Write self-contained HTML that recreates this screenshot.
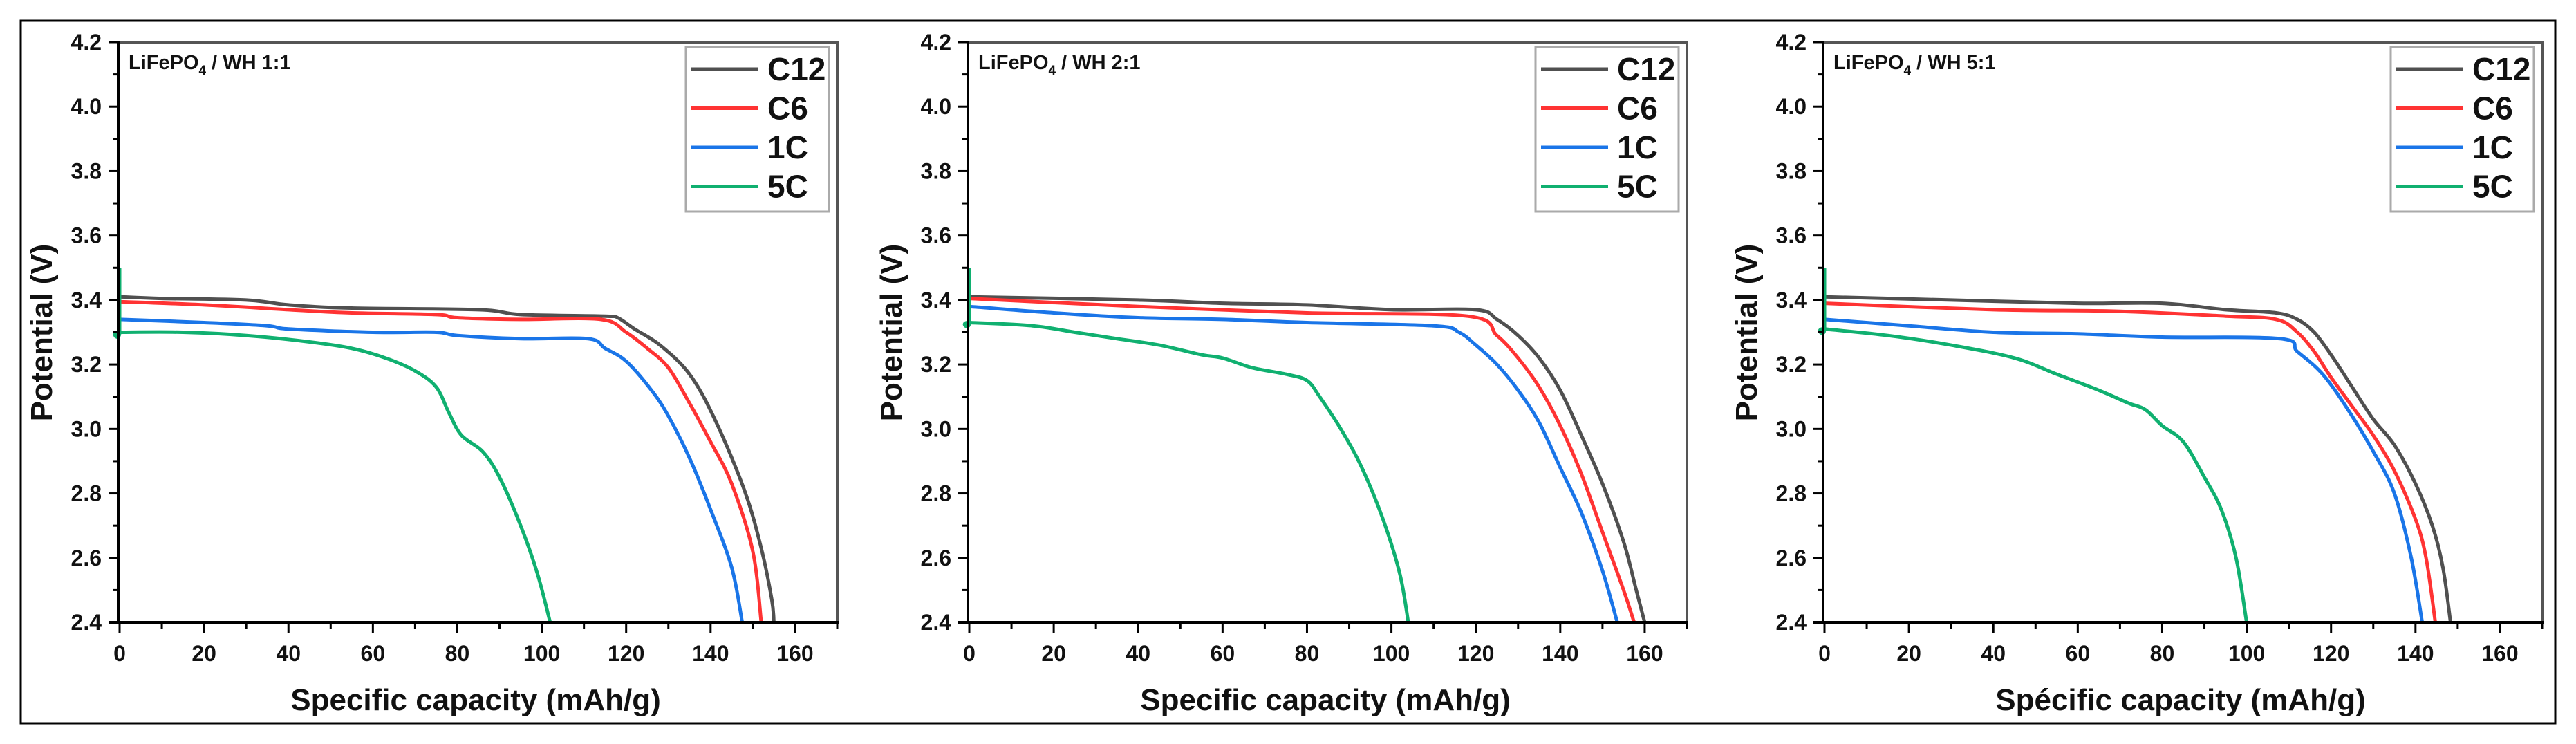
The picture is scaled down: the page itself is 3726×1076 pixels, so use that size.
<!DOCTYPE html>
<html><head><meta charset="utf-8"><style>
html,body{margin:0;padding:0;background:#fff;}
svg{display:block;font-family:"Liberation Sans",Arial,sans-serif;}
</style></head><body>
<svg id="fig" width="3726" height="1076" viewBox="0 0 3726 1076" xmlns="http://www.w3.org/2000/svg">
<rect x="30" y="30" width="3666" height="1016" fill="#fff" stroke="#000" stroke-width="3"/>
</svg>
<script>
const seriesNames = ["C12","C6","1C","5C"];
const seriesColors = ["#505050","#ff3333","#1a75e8","#10b070"];
const panelTitles = ["1:1","2:1","5:1"];
const xTitles = ["Specific capacity (mAh/g)","Specific capacity (mAh/g)","Spécific capacity (mAh/g)"];
const xTicks = [0,20,40,60,80,100,120,140,160];
const yTicks = [2.4,2.6,2.8,3.0,3.2,3.4,3.6,3.8,4.0,4.2];
// panel 1
const p1_C12_x=[0,10,30,40,55,85,95,115,118,122,128,135,141,148,152,154.5,155];
const p1_C12_y=[3.41,3.405,3.40,3.385,3.375,3.37,3.355,3.35,3.345,3.31,3.26,3.17,3.03,2.81,2.63,2.47,2.4];
const p1_C6_x=[0,20,40,55,75,80,95,114,120,125,130,135,140,145,150,152];
const p1_C6_y=[3.395,3.385,3.37,3.36,3.355,3.345,3.34,3.34,3.30,3.25,3.19,3.08,2.96,2.83,2.62,2.4];
const p1_1C_x=[0,20,35,40,60,75,80,95,111,115,120,126,130,135,140,145,147.5];
const p1_1C_y=[3.34,3.33,3.32,3.31,3.30,3.30,3.29,3.28,3.28,3.25,3.21,3.12,3.04,2.91,2.75,2.57,2.4];
const p1_5C_x=[0,0,0,15,30,45,55,63,70,75,78,81,86,90,95,99,102];
const p1_5C_y=[3.5,3.30,3.30,3.30,3.29,3.27,3.25,3.22,3.18,3.13,3.05,2.98,2.93,2.85,2.70,2.55,2.4];
// panel 2
const p2_C12_x=[0,40,60,80,100,120,125,130,135,140,145,150,155,158,160];
const p2_C12_y=[3.41,3.40,3.39,3.385,3.37,3.37,3.34,3.29,3.22,3.12,2.98,2.83,2.65,2.5,2.4];
const p2_C6_x=[0,40,80,118,125,130,135,140,145,150,155,157.5];
const p2_C6_y=[3.405,3.38,3.36,3.35,3.29,3.22,3.13,3.01,2.86,2.68,2.5,2.4];
const p2_1C_x=[0,20,40,60,80,110,116,120,125,130,135,140,145,150,153.5];
const p2_1C_y=[3.38,3.36,3.345,3.34,3.33,3.32,3.30,3.26,3.20,3.12,3.02,2.88,2.74,2.56,2.4];
const p2_5C_x=[0,0,0,15,25,35,45,55,60,67,75,80,83,88,93,98,102,104];
const p2_5C_y=[3.5,3.33,3.33,3.32,3.30,3.28,3.26,3.23,3.22,3.19,3.17,3.15,3.10,3.00,2.88,2.72,2.55,2.4];
// panel 3
const p3_C12_x=[0,30,60,80,95,107,112,116,120,125,130,135,140,144,146.5,148.3];
const p3_C12_y=[3.41,3.40,3.39,3.39,3.37,3.36,3.34,3.30,3.23,3.13,3.03,2.95,2.83,2.70,2.57,2.4];
const p3_C6_x=[0,40,70,95,107,112,116,120,125,130,135,140,142.5,144.7];
const p3_C6_y=[3.39,3.37,3.365,3.35,3.34,3.30,3.24,3.16,3.07,2.98,2.87,2.72,2.6,2.4];
const p3_1C_x=[0,20,40,60,80,108,112,118,124,130,135,139,141.6];
const p3_1C_y=[3.34,3.32,3.30,3.295,3.285,3.28,3.24,3.17,3.06,2.93,2.80,2.60,2.4];
const p3_5C_x=[0,0,0,15,30,45,55,65,72,76,80,85,90,94,97.5,100];
const p3_5C_y=[3.5,3.31,3.31,3.29,3.26,3.22,3.17,3.12,3.08,3.06,3.01,2.96,2.85,2.75,2.60,2.4];

const panelData=[
 [[p1_C12_x,p1_C12_y],[p1_C6_x,p1_C6_y],[p1_1C_x,p1_1C_y],[p1_5C_x,p1_5C_y]],
 [[p2_C12_x,p2_C12_y],[p2_C6_x,p2_C6_y],[p2_1C_x,p2_1C_y],[p2_5C_x,p2_5C_y]],
 [[p3_C12_x,p3_C12_y],[p3_C6_x,p3_C6_y],[p3_1C_x,p3_1C_y],[p3_5C_x,p3_5C_y]]
];
const NS="http://www.w3.org/2000/svg";
const svg=document.getElementById('fig');
function mk(tag,attrs,parent){const e=document.createElementNS(NS,tag);for(const k in attrs)e.setAttribute(k,attrs[k]);(parent||svg).appendChild(e);return e;}
function smooth(pts){
  let d='M'+pts[0][0].toFixed(1)+' '+pts[0][1].toFixed(1);
  for(let i=0;i<pts.length-1;i++){
    const p0=pts[Math.max(0,i-1)],p1=pts[i],p2=pts[i+1],p3=pts[Math.min(pts.length-1,i+2)];
    const c1=[p1[0]+(p2[0]-p0[0])/6,p1[1]+(p2[1]-p0[1])/6];
    const c2=[p2[0]-(p3[0]-p1[0])/6,p2[1]-(p3[1]-p1[1])/6];
    d+=`C${c1[0].toFixed(1)} ${c1[1].toFixed(1)} ${c2[0].toFixed(1)} ${c2[1].toFixed(1)} ${p2[0].toFixed(1)} ${p2[1].toFixed(1)}`;
  }
  return d;
}
const panelLefts=[171,1400,2637];
const W=1040,T=61,H=839;
panelLefts.forEach((L,pi)=>{
  const g=mk('g',{});
  
  
  const xs=v=>L+2+(v/170)*(W-2);
  const ys=v=>T+(4.2-v)/1.8*H;
  mk('path',{d:`M${L} ${T}H${L+W}V${T+H}`,fill:'none',stroke:'#555',"stroke-width":4},g);
  panelData[pi].forEach((s,si)=>{
    const pts=s[0].map((x,i)=>[xs(x),ys(s[1][i])]);
    const p=mk('path',{d:smooth(pts),fill:'none',stroke:seriesColors[si],"stroke-width":5,"stroke-linejoin":"round"},g);
    
    
  });
  mk('line',{x1:L,y1:T-2,x2:L,y2:T+H+2,stroke:'#000',"stroke-width":4},g);
  mk('line',{x1:L-14,y1:T+H,x2:L+W+2,y2:T+H,stroke:'#000',"stroke-width":4},g);
  yTicks.forEach((v,i)=>{
    const y=ys(v);
    mk('line',{x1:L-14,y1:y,x2:L,y2:y,stroke:'#000',"stroke-width":3},g);
    if(i<yTicks.length-1){const ym=ys(v+0.1);mk('line',{x1:L-8,y1:ym,x2:L,y2:ym,stroke:'#000',"stroke-width":3},g);}
    const t=mk('text',{x:L-24,y:y+11,"text-anchor":"end","font-size":32,"font-weight":"bold",fill:'#111'},g);
    t.textContent=v.toFixed(1);
    
    
  });
  xTicks.forEach((v)=>{
    const x=xs(v);
    mk('line',{x1:x,y1:T+H,x2:x,y2:T+H+16,stroke:'#000',"stroke-width":3},g);
    const xm=xs(v+10);
    mk('line',{x1:xm,y1:T+H,x2:xm,y2:T+H+9,stroke:'#000',"stroke-width":3},g);
    const t=mk('text',{x:x,y:T+H+56,"text-anchor":"middle","font-size":32,"font-weight":"bold",fill:'#111'},g);
    t.textContent=v;
    
    
  });
  const xt=mk('text',{x:L+517,y:1027,"text-anchor":"middle","font-size":44,"font-weight":"bold",fill:'#111'},g);
  xt.textContent=xTitles[pi];
  
  
  const yt=mk('text',{x:0,y:0,transform:`translate(${L-96},481) rotate(-90)`,"text-anchor":"middle","font-size":44,"font-weight":"bold",fill:'#111'},g);
  yt.textContent="Potential (V)";
  
  
  const an=mk('text',{x:L+15,y:T+39,"font-size":29,"font-weight":"bold",fill:'#111'},g);
  an.innerHTML='LiFePO<tspan font-size="19" dy="8">4</tspan><tspan dy="-8"> / WH '+panelTitles[pi]+'</tspan>';
  
  
  const lg=mk('g',{},g);
  
  
  const lx=L+821;
  mk('rect',{x:lx,y:T+7,width:W-821-12,height:238,fill:'#fff',stroke:'#aaa',"stroke-width":3},lg);
  seriesNames.forEach((n,si)=>{
    const y=T+39+si*56.5;
    mk('line',{x1:lx+8,y1:y,x2:lx+105,y2:y,stroke:seriesColors[si],"stroke-width":5},lg);
    const t=mk('text',{x:lx+118,y:y+16,"font-size":46,"font-weight":"bold",fill:'#111'},lg);
    t.textContent=n;
    
    
  });
});
</script>
</body></html>
